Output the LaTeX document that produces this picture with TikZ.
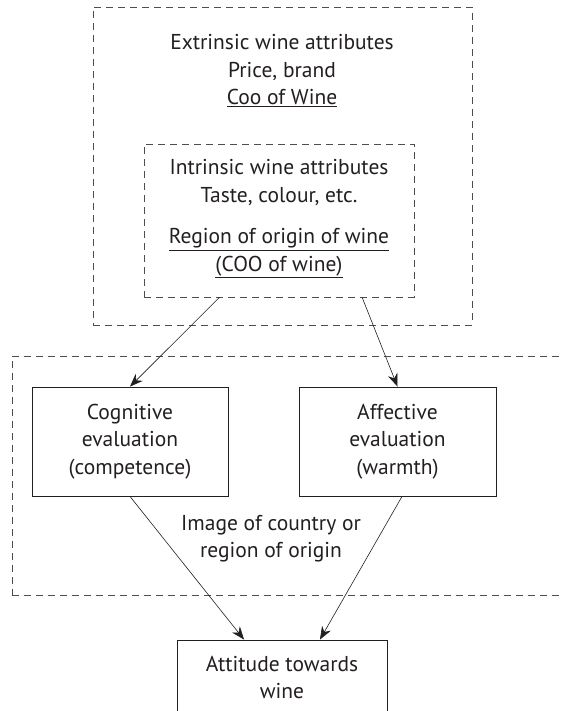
\documentclass[tikz,border=0pt]{standalone}
\usepackage{fontspec}
\setmainfont{PT Sans}
\usetikzlibrary{arrows.meta,calc}
\definecolor{ink}{HTML}{231F20}
\definecolor{dash}{HTML}{4D4D4D}
\begin{document}
\begin{tikzpicture}[x=1pt,y=-1pt,
  every node/.style={font=\fontsize{21.5}{27.5}\selectfont, text=ink, align=center},
  dbox/.style={draw=dash, dashed, dash pattern=on 7pt off 5pt, line width=0.8pt, inner sep=0pt},
  sbox/.style={draw=ink, line width=0.9pt, inner sep=0pt},
  arr/.style={draw=ink, line width=0.6pt, -{Stealth[length=13pt,width=10pt]}}]
\useasboundingbox (0,0) rectangle (560,711);
\begin{scope}
\clip (0,0) rectangle (560,711);
% outer and inner dashed boxes
\node[dbox, minimum width=379pt, minimum height=318pt] (outer) at (282.5,166) {};
\node (outertext) at (282,71) {Extrinsic wine attributes\\Price, brand\\\underline{Coo of Wine}};
\node[dbox, minimum width=270pt, minimum height=153pt] (inner) at (279,220.5) {};
\node (innertext) at (279,219) {Intrinsic wine attributes\\Taste, colour, etc.\\[14pt]\underline{Region of origin of wine}\\\underline{(COO of wine)}};
% image dashed box (open to the right)
\node[dbox, minimum width=580pt, minimum height=239pt] (image) at (302,475.5) {};
\node (imagetext) at (271,538.5) {Image of country or\\region of origin};
% evaluation boxes
\node[sbox, minimum width=196pt, minimum height=109pt] (cog) at (130,441.5) {Cognitive\\evaluation\\(competence)};
\node[sbox, minimum width=197pt, minimum height=109pt] (aff) at (397.5,441.5) {Affective\\evaluation\\(warmth)};
% attitude box (cut at bottom)
\node[sbox, minimum width=210pt, minimum height=75pt] (att) at (282,677.5) {Attitude towards\\wine};
% connectors
\coordinate (s1) at ($(inner.south west)!0.28!(inner.south east)$);
\coordinate (s2) at ($(inner.south west)!0.807!(inner.south east)$);
\coordinate (t1) at ($(att.north west)!0.32!(att.north east)$);
\coordinate (t2) at ($(att.north west)!0.68!(att.north east)$);
\coordinate (u2) at ($(aff.south)+(4.5,0)$);
\draw[arr] (s1) -- (cog.north);
\draw[arr] (s2) -- (aff.north);
\draw[arr] (cog.south) -- (t1);
\draw[arr] (u2) -- (t2);
\end{scope}
\end{tikzpicture}
\end{document}
